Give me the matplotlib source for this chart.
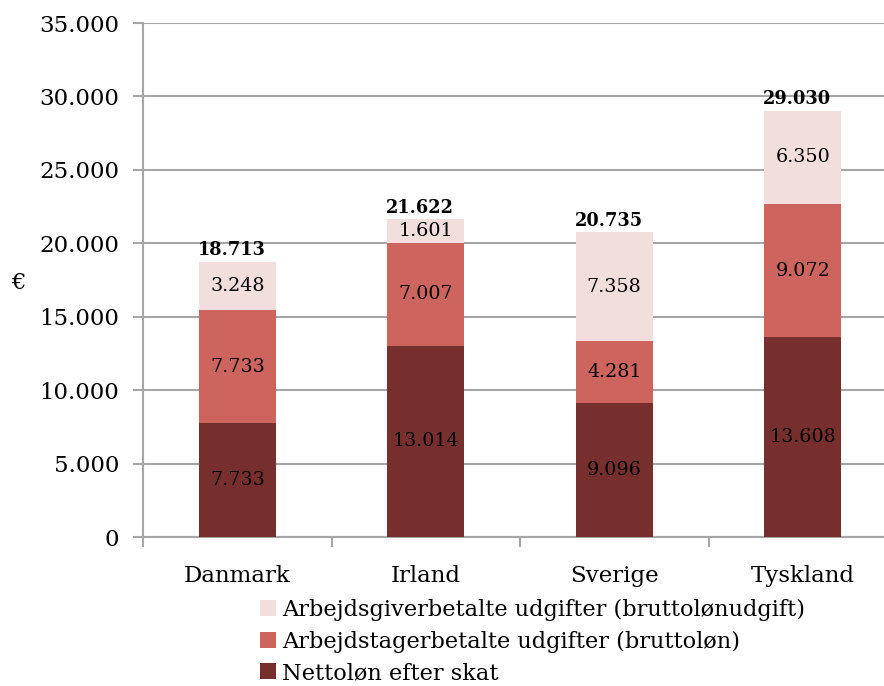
import matplotlib
matplotlib.use("Agg")
import matplotlib.pyplot as plt
import numpy as np

categories = ["Danmark", "Irland", "Sverige", "Tyskland"]
netto = [7733, 13014, 9096, 13608]
arbejdstager = [7733, 7007, 4281, 9072]
arbejdsgiver = [3248, 1601, 7358, 6350]
totals = [18713, 21622, 20735, 29030]
labels = ["Nettoløn efter skat",
          "Arbejdstagerbetalte udgifter (bruttoløn)",
          "Arbejdsgiverbetalte udgifter (bruttolønudgift)"]
colors = ["#772F2D", "#CD645D", "#F2DEDD"]

plt.rcParams['font.family'] = ['DejaVu Serif']

def fmt(v):
    return f"{v:,}".replace(",", ".")

fig = plt.figure(figsize=(8.84, 6.86), dpi=100)
ax = fig.add_axes([143/884, 149/686, 754/884, 514/686])

x = np.arange(len(categories))
w = 0.41
series = [netto, arbejdstager, arbejdsgiver]
bottom = np.zeros(len(categories))
bars = []
for vals, col, lab in zip(series, colors, labels):
    b = ax.bar(x, vals, w, bottom=bottom, color=col, label=lab, zorder=3)
    bars.append(b)
    for xi, v, bt in zip(x, vals, bottom):
        ax.text(xi, bt + v/2, fmt(v), ha='center', va='center', fontsize=13.8, color='black', zorder=4)
    bottom += np.array(vals)

for xi, t in zip(x, totals):
    ax.text(xi - 0.03, t + 200, fmt(t), ha='center', va='bottom', fontsize=12.8, fontweight='bold', zorder=4)

ax.set_xlim(-0.5, 3.5)
ax.set_ylim(0, 35000)
ax.set_yticks(np.arange(0, 35001, 5000))
ax.set_yticklabels([fmt(v) for v in range(0, 35001, 5000)], fontsize=16.5)
ax.yaxis.grid(True, color='#A6A6A6', linewidth=1.5, zorder=0)
ax.set_axisbelow(True)
ax.set_xticks(x)
ax.set_xticklabels(categories, fontsize=16.5)
ax.tick_params(axis='x', length=0, pad=20)
ax.set_xticks(np.arange(-0.5, 3.6, 1), minor=True)
ax.tick_params(axis='x', which='minor', length=7, color='#A6A6A6', width=1.5)
ax.tick_params(axis='y', length=7, color='#A6A6A6', width=1.5, pad=10)
for s in ['top', 'right']:
    ax.spines[s].set_visible(False)
ax.spines['left'].set_color('#A6A6A6')
ax.spines['left'].set_linewidth(1.5)
ax.spines['bottom'].set_color('#A6A6A6')
ax.spines['bottom'].set_linewidth(1.5)

fig.text(18/884, 1 - 283/686, "€", fontsize=16.5, ha='center', va='center')

handles = [bars[2], bars[1], bars[0]]
leg = fig.legend(handles, [labels[2], labels[1], labels[0]],
                 loc='upper left', bbox_to_anchor=(260/884, 1 - 599/686),
                 frameon=False, fontsize=16.2, handlelength=0.72, handleheight=0.72,
                 handletextpad=0.25, labelspacing=0.42, borderaxespad=0, borderpad=0)

fig.savefig("out.png", dpi=100)
